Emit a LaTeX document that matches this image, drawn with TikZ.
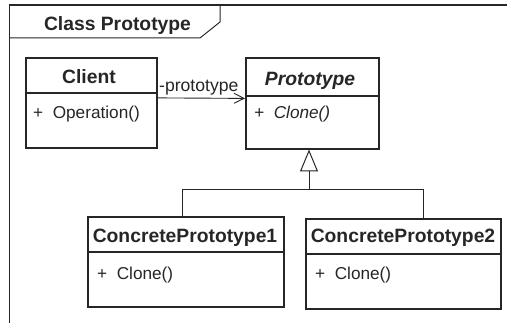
\documentclass[tikz,border=0pt]{standalone}
\usepackage{fontspec}
\setmainfont{Liberation Sans}
\usetikzlibrary{arrows.meta}
\definecolor{ink}{HTML}{262626}
\tikzset{
  box/.style={draw=ink, line width=1.8pt, rectangle, anchor=north west, inner sep=0pt},
  ttl/.style={font=\fontsize{19.3}{21}\selectfont\bfseries, text=ink, anchor=base, inner sep=0pt},
  itl/.style={font=\fontsize{19.3}{21}\selectfont\bfseries\itshape, text=ink, anchor=base, inner sep=0pt},
  op/.style={font=\fontsize{17.2}{19}\selectfont, text=ink, anchor=base west, inner sep=0pt},
  opi/.style={font=\fontsize{17.2}{19}\selectfont\itshape, text=ink, anchor=base west, inner sep=0pt},
  conn/.style={draw=ink, line width=0.9pt},
  frm/.style={draw=ink, line width=1.8pt}
}
\begin{document}
\begin{tikzpicture}[x=1pt, y=-1pt]
\useasboundingbox (0,0) rectangle (507,323);
% frame
\draw[frm] (9.5,330) -- (9.5,5) -- (510,5);
\draw[frm, line width=1pt] (9.5,38) -- (200,38) -- (220,22) -- (220,5);
\node[ttl, font=\fontsize{19.3}{21}\selectfont\bfseries] (frametitle) at (117.5,31) {Class Prototype};
% Client
\node[box, minimum width=131pt, minimum height=90pt] (client) at (25,57) {};
\draw[frm] (25,93) -- (156,93);
\node[ttl] (clientname) at (89,84) {Client};
\node[op] (clientop) at (33,119) {+\ \ Operation()};
% Prototype
\node[box, minimum width=133pt, minimum height=91pt] (proto) at (245,57) {};
\draw[frm] (245,96) -- (378,96);
\node[itl] (protoname) at (310,86) {Prototype};
\node[opi] (protoop) at (254,119) {+\ \ Clone()};
% ConcretePrototype1
\node[box, minimum width=196pt, minimum height=90pt] (cp1) at (87,216) {};
\draw[frm] (87,252) -- (283,252);
\node[ttl] (cp1name) at (185,243) {ConcretePrototype1};
\node[op] (cp1op) at (97,280) {+\ \ Clone()};
% ConcretePrototype2
\node[box, minimum width=195pt, minimum height=90pt] (cp2) at (305,218) {};
\draw[frm] (305,254) -- (500,254);
\node[ttl] (cp2name) at (403,243) {ConcretePrototype2};
\node[op] (cp2op) at (315,280) {+\ \ Clone()};
% association
\draw[conn, -{Straight Barb[length=10pt, width=10pt, line width=0.9pt]}] ([yshift=5pt]client.east) -- ([yshift=5pt]proto.west);
\node[font=\fontsize{17.6}{20}\selectfont, text=ink, anchor=base west, inner sep=0pt] (role) at (159,92) {-prototype};
% generalization
\coordinate (j) at (309,189);
\draw[conn] ([xshift=-3pt]cp1.north) |- (j);
\draw[conn] ([xshift=20.5pt]cp2.north) |- (j);
\draw[conn, -{Triangle[open, length=22pt, width=18pt, line width=1pt]}] (j) -- (309,149.5);
\end{tikzpicture}
\end{document}
